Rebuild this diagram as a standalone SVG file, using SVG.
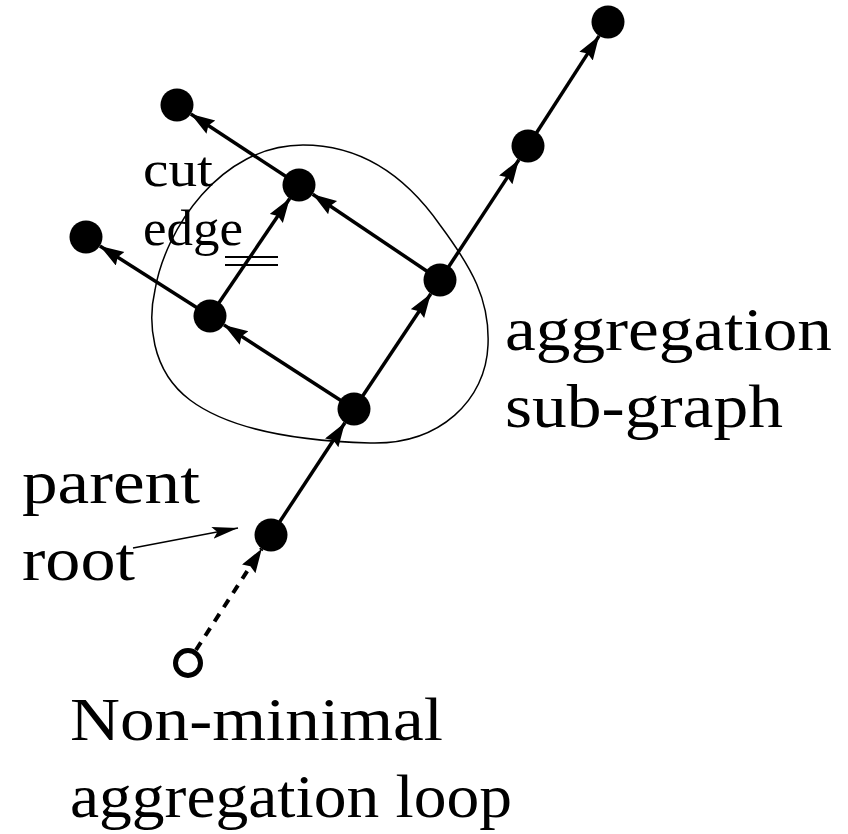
<svg xmlns="http://www.w3.org/2000/svg" width="848" height="834" viewBox="0 0 848 834">
  <style>
    .edge { stroke: #000; stroke-width: 3.5; fill: none; marker-end: url(#arr); }
    .dash { stroke-dasharray: 9 8; stroke-width: 4; }
    .node { fill: #000; }
    .lbl { font-family: "Liberation Serif", "Times New Roman", serif; font-size: 62px; fill: #000; }
    .small { font-size: 50px; }
  </style>
  <defs>
    <marker id="arr" markerUnits="userSpaceOnUse" markerWidth="26" markerHeight="18" refX="24" refY="8" orient="auto">
      <path d="M0,0 L24,8 L0,16 L3,8 Z" fill="#000"/>
    </marker>
    <marker id="arrThin" markerUnits="userSpaceOnUse" markerWidth="28" markerHeight="14" refX="26" refY="6" orient="auto">
      <path d="M0,0 L26,6 L0,12 L5,6 Z" fill="#000"/>
    </marker>
  </defs>
  <rect width="848" height="834" fill="#fff"/>

  <g id="subgraph-outline">
    <path d="M303,145 C360,145 405,175 440,225 C472,268 490,300 488,345 C486,400 440,445 370,443 C300,441 230,430 190,400 C150,370 148,320 155,290 C165,230 220,145 303,145 Z" fill="none" stroke="#000" stroke-width="1.5"/>
  </g>

  <g id="connectors">
    <line class="edge" x1="299" y1="185" x2="190.8" y2="114"/>
    <line class="edge" x1="210" y1="316" x2="99.9" y2="245.9"/>
    <line class="edge" x1="210" y1="316" x2="289.7" y2="198.6"/>
    <line class="edge" x1="440" y1="280" x2="312.7" y2="194.2"/>
    <line class="edge" x1="354" y1="409" x2="223.9" y2="324.9"/>
    <line class="edge" x1="354" y1="409" x2="430.8" y2="293.7"/>
    <line class="edge" x1="271" y1="535" x2="344.9" y2="422.8"/>
    <line class="edge dash" x1="196" y1="650" x2="261.8" y2="548.7"/>
    <line class="edge" x1="440" y1="280" x2="518.9" y2="159.8"/>
    <line class="edge" x1="528" y1="146" x2="599.1" y2="35.9"/>
    <line x1="133" y1="548" x2="238" y2="528" stroke="#000" stroke-width="1.6" marker-end="url(#arrThin)"/>
    <g id="cut-mark" stroke="#000" stroke-width="1.8">
      <line x1="225" y1="257" x2="278" y2="257"/>
      <line x1="225" y1="265" x2="278" y2="265"/>
    </g>
  </g>

  <g id="n1"><circle class="node" cx="177" cy="105" r="16.5"/></g>
  <g id="n2"><circle class="node" cx="86" cy="237" r="16.5"/></g>
  <g id="n3"><circle class="node" cx="299" cy="185" r="16.5"/></g>
  <g id="n4"><circle class="node" cx="210" cy="316" r="16.5"/></g>
  <g id="n5"><circle class="node" cx="440" cy="280" r="16.5"/></g>
  <g id="n6"><circle class="node" cx="354" cy="409" r="16.5"/></g>
  <g id="n7"><circle class="node" cx="271" cy="535" r="16.5"/></g>
  <g id="n8"><circle cx="188" cy="663" r="12.5" fill="#fff" stroke="#000" stroke-width="5"/></g>
  <g id="n9"><circle class="node" cx="528" cy="146" r="16.5"/></g>
  <g id="n10"><circle class="node" cx="608" cy="22" r="16.5"/></g>

  <g id="labels">
    <text class="lbl small" x="143" y="186" textLength="70" lengthAdjust="spacingAndGlyphs">cut</text>
    <text class="lbl small" x="143" y="245" textLength="100" lengthAdjust="spacingAndGlyphs">edge</text>
    <text class="lbl" x="505" y="350" textLength="327" lengthAdjust="spacingAndGlyphs">aggregation</text>
    <text class="lbl" x="505" y="427" textLength="278" lengthAdjust="spacingAndGlyphs">sub-graph</text>
    <text class="lbl" x="22" y="503" textLength="178" lengthAdjust="spacingAndGlyphs">parent</text>
    <text class="lbl" x="22" y="580" textLength="113" lengthAdjust="spacingAndGlyphs">root</text>
    <text class="lbl" x="70" y="740" textLength="373" lengthAdjust="spacingAndGlyphs">Non-minimal</text>
    <text class="lbl" x="70" y="817" textLength="442" lengthAdjust="spacingAndGlyphs">aggregation loop</text>
  </g>
</svg>
